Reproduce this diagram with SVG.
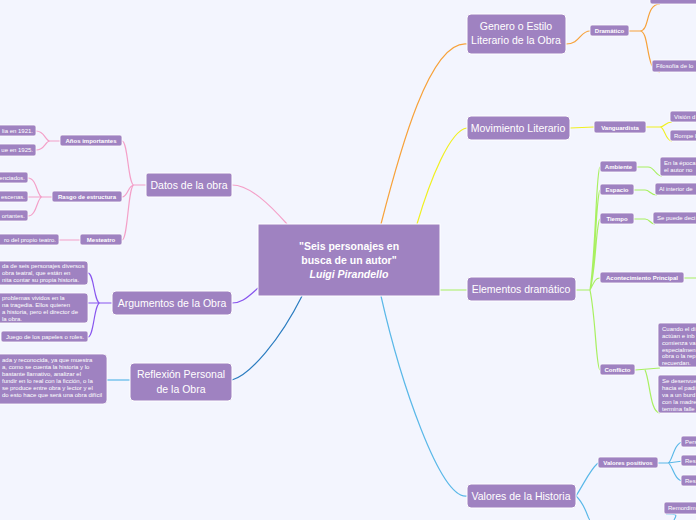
<svg xmlns="http://www.w3.org/2000/svg" width="696" height="520" viewBox="0 0 696 520">
<style>
text{font-family:"Liberation Sans",Arial,sans-serif;fill:#fff}
.main rect{fill:#9f82c1;stroke:#fff;stroke-width:1}
.main text{font-size:10.5px;text-anchor:middle}
.sub rect{fill:#9f82c1;stroke:#fff;stroke-width:0.8}
.sub text{font-size:6px;font-weight:bold;text-anchor:middle}
.leaf rect{fill:#9f82c1;stroke:#fff;stroke-width:0.8}
.leaf text{font-size:6px}
.c{fill:none;stroke-width:1.2}
</style>
<rect width="696" height="520" fill="#f3f5fe"/>
<g id="connectors">
<path class="c" stroke="#f7a23a" stroke-width="2" d="M381 224 C400 150 430 40 467 44 L566 44"/>
<path class="c" stroke="#f7a23a" d="M566 44 C580 44 580 31 590 31 M629 31 L640 31 C650 31 645 4 660 4 M640 31 C650 31 645 72 660 72"/>
<path class="c" stroke="#f0f020" stroke-width="2" d="M417 224 C430 180 450 130 467 128 L570 128 L594 127"/>
<path class="c" stroke="#f0f020" d="M646 127 L660 127 C665 127 665 122 672 122 M660 127 C665 127 665 141 672 141"/>
<path class="c" stroke="#a8f060" stroke-width="2" d="M440 290 L467 290 M576 290 L590 290"/>
<path class="c" stroke="#a8f060" d="M590 290 C596 250 596 170 600 167 M590 290 C596 260 596 195 600 190 M590 290 C596 270 596 222 600 219 M590 290 C595 280 596 278 600 278 M590 290 C596 320 596 368 600 370 M637 167 L648 167 C655 167 655 176 662 176 M634 190 L645 190 C650 190 650 195 657 195 M634 219 L645 219 C650 219 650 224 655 224 M684 278 L696 278 M635 370 L660 368 M645 370 C650 380 650 413 660 413"/>
<path class="c" stroke="#5ab8e8" stroke-width="2" d="M381 296 C400 380 440 500 467 496 L576 496"/>
<path class="c" stroke="#5ab8e8" d="M576 496 C586 480 590 470 598 463 M576 496 C586 505 588 520 590 520 M658 463 L668 463 C672 463 674 442 683 442 M668 463 L683 461 M668 463 C672 463 674 481 683 481 M674 520 C677 515 678 514 666 514"/>
<path class="c" stroke="#f4a0c8" stroke-width="2" d="M287 224 C270 205 250 185 232 185"/>
<path class="c" stroke="#f4a0c8" d="M146 185 L134 185 C128 185 128 141 122 141 M134 185 C128 185 128 197 122 197 M134 185 C128 185 128 240 122 240 M60 141 L50 141 C45 141 45 131 36 131 M50 141 C45 141 45 150 36 150 M52 197 L42 197 C37 197 37 178 28 178 M42 197 L28 197 M42 197 C37 197 37 216 28 216 M80 240 L72 240 C66 240 66 240 59 240"/>
<path class="c" stroke="#8855ee" stroke-width="2" d="M258 288 C245 300 240 303 232 303"/>
<path class="c" stroke="#8855ee" d="M112 303 L100 303 C94 303 94 273 88 273 M100 303 L88 303 M100 303 C94 303 94 337 88 337"/>
<path class="c" stroke="#2a7cc0" stroke-width="2" d="M302 296 C280 340 250 375 232 380"/>
<path class="c" stroke="#5ab8e8" d="M130 380 L107 380"/>
</g>
<g id="center" class="main"><rect x="258" y="224" width="182" height="72"/>
<text x="349" y="250" font-size="12" font-weight="bold">"Seis personajes en</text>
<text x="349" y="264" font-size="12" font-weight="bold">busca de un autor"</text>
<text x="349" y="278" font-size="12" font-weight="bold" font-style="italic">Luigi Pirandello</text></g>
<g id="genero" class="main"><rect x="467" y="14" width="99" height="40" rx="4"/><text x="516" y="30">Genero o Estilo</text><text x="516" y="44">Literario de la Obra</text></g>
<g id="movimiento" class="main"><rect x="467" y="116" width="103" height="24" rx="4"/><text x="518" y="132">Movimiento Literario</text></g>
<g id="elementos" class="main"><rect x="467" y="277" width="109" height="24" rx="4"/><text x="521" y="293">Elementos dramático</text></g>
<g id="valores" class="main"><rect x="467" y="484" width="109" height="24" rx="4"/><text x="521" y="500">Valores de la Historia</text></g>
<g id="datos" class="main"><rect x="146" y="173" width="86" height="24" rx="2"/><text x="189" y="189">Datos de la obra</text></g>
<g id="argumentos" class="main"><rect x="112" y="291" width="120" height="24" rx="4"/><text x="172" y="307">Argumentos de la Obra</text></g>
<g id="reflexion" class="main"><rect x="130" y="363" width="102" height="38" rx="4"/><text x="181" y="378">Reflexión Personal</text><text x="181" y="393">de la Obra</text></g>
<g id="dramatico" class="sub"><rect x="590" y="25" width="39" height="11" rx="2"/><text x="609.5" y="33">Dramático</text></g>
<g id="vanguardista" class="sub"><rect x="594" y="121" width="52" height="12" rx="2"/><text x="620" y="129.5" font-size="7">Vanguardista</text></g>
<g id="ambiente" class="sub"><rect x="600" y="161" width="37" height="11" rx="2"/><text x="618.5" y="169">Ambiente</text></g>
<g id="espacio" class="sub"><rect x="600" y="184" width="34" height="11" rx="2"/><text x="617" y="192">Espacio</text></g>
<g id="tiempo" class="sub"><rect x="600" y="213" width="34" height="11" rx="2"/><text x="617" y="221">Tiempo</text></g>
<g id="acontecimiento" class="sub"><rect x="600" y="272" width="84" height="11" rx="2"/><text x="642" y="280">Acontecimiento Principal</text></g>
<g id="conflicto" class="sub"><rect x="600" y="364" width="35" height="11" rx="2"/><text x="617.5" y="372">Conflicto</text></g>
<g id="valorespos" class="sub"><rect x="598" y="457" width="60" height="11" rx="2"/><text x="628" y="465">Valores positivos</text></g>
<g id="anos" class="sub"><rect x="60" y="135" width="62" height="11" rx="2"/><text x="91" y="143">Años importantes</text></g>
<g id="rasgo" class="sub"><rect x="52" y="191" width="70" height="11" rx="2"/><text x="87" y="199">Rasgo de estructura</text></g>
<g id="mesteatro" class="sub"><rect x="80" y="234" width="42" height="11" rx="2"/><text x="101" y="242">Mesteatro</text></g>
<g class="leaf">
<g id="l1"><rect x="650" y="-6" width="50" height="10" rx="2"/></g>
<g id="l2"><rect x="652" y="60" width="50" height="12" rx="2"/><text x="656" y="68">Filosofía de lo</text></g>
<g id="l3"><rect x="670" y="111" width="30" height="11" rx="2"/><text x="674" y="119">Visión d</text></g>
<g id="l4"><rect x="670" y="130" width="30" height="11" rx="2"/><text x="674" y="138">Rompe l</text></g>
<g id="l5"><rect x="660" y="157" width="40" height="19" rx="2"/><text x="664" y="165">En la época</text><text x="664" y="172">el autor no</text></g>
<g id="l6"><rect x="655" y="183" width="45" height="12" rx="2"/><text x="659" y="191">Al interior de</text></g>
<g id="l7"><rect x="653" y="212" width="47" height="12" rx="2"/><text x="657" y="220">Se puede deci</text></g>
<g id="l8"><rect x="658" y="323" width="42" height="44" rx="2"/><text x="662" y="331">Cuando el di</text><text x="662" y="338">actúan e inb</text><text x="662" y="345">comienza va</text><text x="662" y="352">especialmen</text><text x="662" y="358">obra o la rep</text><text x="662" y="365">recuerdan.</text></g>
<g id="l9"><rect x="658" y="375" width="42" height="38" rx="2"/><text x="662" y="383">Se desenvue</text><text x="662" y="390">hacia el padi</text><text x="662" y="397">va a un burd</text><text x="662" y="404">con la madre</text><text x="662" y="411">termina falle</text></g>
<g id="l10"><rect x="681" y="436" width="19" height="11" rx="2"/><text x="685" y="444">Pers</text></g>
<g id="l11"><rect x="681" y="455" width="19" height="11" rx="2"/><text x="685" y="463">Res</text></g>
<g id="l12"><rect x="681" y="475" width="19" height="11" rx="2"/><text x="685" y="483">Res</text></g>
<g id="l13"><rect x="664" y="502" width="36" height="12" rx="2"/><text x="668" y="510">Remordim</text></g>
<g id="l14"><rect x="-5" y="125" width="41" height="11" rx="2"/><text x="33" y="133" text-anchor="end">lia en 1921.</text></g>
<g id="l15"><rect x="-5" y="144" width="41" height="12" rx="2"/><text x="33" y="152" text-anchor="end">ue en 1925.</text></g>
<g id="l16"><rect x="-5" y="172" width="33" height="11" rx="2"/><text x="25" y="180" text-anchor="end">enciados.</text></g>
<g id="l17"><rect x="-5" y="191" width="33" height="11" rx="2"/><text x="25" y="199" text-anchor="end">escenas.</text></g>
<g id="l18"><rect x="-5" y="210" width="33" height="11" rx="2"/><text x="25" y="218" text-anchor="end">ortantes.</text></g>
<g id="l19"><rect x="-5" y="234" width="64" height="11" rx="2"/><text x="56" y="242" text-anchor="end">ro del propio teatro.</text></g>
<g id="l20"><rect x="-5" y="261" width="93" height="24" rx="3"/><text x="2" y="268">da de seis personajes diversos</text><text x="2" y="275">obra teatral, que están en</text><text x="2" y="282">nita contar su propia historia.</text></g>
<g id="l21"><rect x="-5" y="293" width="93" height="30" rx="3"/><text x="2" y="300">problemas vividos en la</text><text x="2" y="307">na tragedia. Ellos quieren</text><text x="2" y="314">a historia, pero el director de</text><text x="2" y="321">la obra.</text></g>
<g id="l22"><rect x="1" y="331" width="87" height="11" rx="2"/><text x="6" y="339">Juego de los papeles o roles.</text></g>
<g id="l23"><rect x="-5" y="354" width="112" height="50" rx="4"/><text x="2" y="362">ada y reconocida, ya que muestra</text><text x="2" y="369">a, como se cuenta la historia y lo</text><text x="2" y="376">bastante llamativo, analizar  el</text><text x="2" y="383">fundir en lo real con la ficción, o la</text><text x="2" y="390">se produce entre obra y lector y el</text><text x="2" y="397">do esto hace que será una obra difícil</text></g>
</g>
</svg>
